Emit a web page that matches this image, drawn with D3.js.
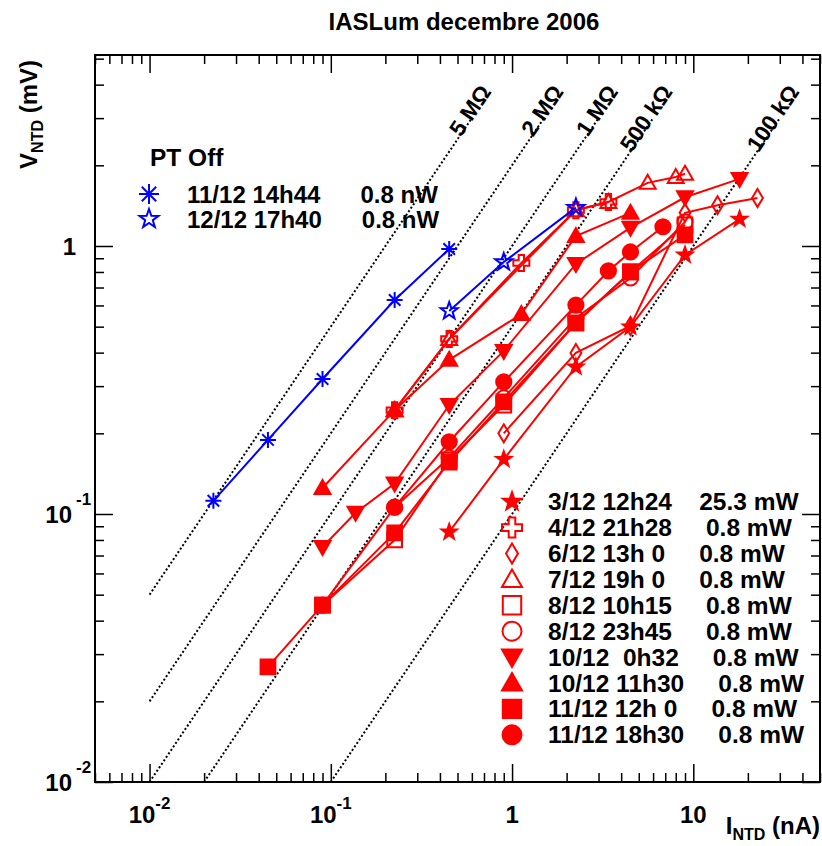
<!DOCTYPE html>
<html><head><meta charset="utf-8">
<script src="https://cdn.jsdelivr.net/npm/d3@7"></script>
<style>body{margin:0;background:#fff} text{font-family:"Liberation Sans",Arial,sans-serif;font-weight:bold;fill:#000}</style>
</head><body><svg id="c" width="822" height="846"></svg>
<script>
// ---------- data ----------
const title = "IASLum decembre 2006";
const xMajor = [0.01, 0.1, 1, 10];
const xMajorBase = ["10", "10", "1", "10"];
const xMajorExp = ["-2", "-1", "", ""];
const yMajor = [0.01, 0.1, 1];
const yMajorBase = ["10", "10", "1"];
const yMajorExp = ["-2", "-1", ""];

const resValues = [5, 2, 1, 0.5, 0.1];            // MOhm  (V[mV] = R * I[nA])
const resLabels = ["5 MΩ", "2 MΩ", "1 MΩ", "500 kΩ", "100 kΩ"];

// red series (PT on)
const s1X = [0.45, 0.9, 2.25, 4.5, 9, 18];            // 3/12 12h24 star
const s1Y = [0.0857, 0.160, 0.354, 0.499, 0.926, 1.26];
const s2X = [0.225, 0.45, 1.125, 2.25, 3.4];          // 4/12 21h28 open cross
const s2Y = [0.244, 0.450, 0.864, 1.36, 1.46];
const s3X = [0.9, 2.25, 4.5, 9, 13.6, 22.6];          // 6/12 13h 0 open diamond
const s3Y = [0.200, 0.399, 0.503, 1.33, 1.42, 1.51];
const s4X = [0.225, 0.45, 2.25, 3.4, 5.6, 8.0, 9.0];  // 7/12 19h 0 open triangle
const s4Y = [0.244, 0.450, 1.36, 1.46, 1.72, 1.81, 1.86];
const s5X = [0.09, 0.225, 0.45, 0.9, 2.25, 4.5, 9];   // 8/12 10h15 open square
const s5Y = [0.0457, 0.080, 0.159, 0.255, 0.516, 0.800, 1.20];
const s6X = [0.09, 0.225, 0.45, 0.9, 2.25, 4.5, 9];   // 8/12 23h45 open circle
const s6Y = [0.0457, 0.106, 0.162, 0.271, 0.539, 0.760, 1.23];
const s7X = [0.09, 0.137, 0.225, 0.45, 0.9, 2.25, 4.5, 9, 18]; // 10/12 0h32 down triangle
const s7Y = [0.0753, 0.101, 0.130, 0.255, 0.406, 0.857, 1.17, 1.52, 1.78];
const s8X = [0.09, 0.225, 0.45, 1.125, 2.25, 4.5];    // 10/12 11h30 up triangle
const s8Y = [0.125, 0.244, 0.376, 0.557, 1.09, 1.33];
const s9X = [0.045, 0.09, 0.225, 0.45, 0.9, 2.25, 4.5, 9]; // 11/12 12h 0 filled square
const s9Y = [0.0269, 0.0457, 0.085, 0.156, 0.262, 0.516, 0.800, 1.10];
const s10X = [0.225, 0.45, 0.9, 2.25, 3.4, 4.5, 6.8];  // 11/12 18h30 filled circle
const s10Y = [0.106, 0.186, 0.311, 0.602, 0.807, 0.950, 1.18];
// blue series (PT off)
const b1X = [0.0225, 0.045, 0.09, 0.225, 0.45];       // 11/12 14h44 asterisk
const b1Y = [0.112, 0.189, 0.319, 0.629, 0.975];
const b2X = [0.45, 0.9, 2.25];                        // 12/12 17h40 open star
const b2Y = [0.572, 0.871, 1.39];

const redLabels = [
  "3/12 12h24    25.3 mW",
  "4/12 21h28     0.8 mW",
  "6/12 13h 0     0.8 mW",
  "7/12 19h 0     0.8 mW",
  "8/12 10h15     0.8 mW",
  "8/12 23h45     0.8 mW",
  "10/12  0h32     0.8 mW",
  "10/12 11h30     0.8 mW",
  "11/12 12h 0     0.8 mW",
  "11/12 18h30     0.8 mW"];
const redMarkers = ["star","crossO","diamondO","triUpO","squareO","circleO","triDown","triUp","square","circle"];
const blueTitle = "PT Off";
const blueLabels = ["11/12 14h44      0.8 nW", "12/12 17h40      0.8 nW"];
const blueMarkers = ["asterisk", "starO"];

// ---------- chart ----------
const RED = "#ff0000", BLUE = "#0000ff";
const svg = d3.select("#c");
const L = 95, R = 820, T = 55, B = 782;
const x = d3.scaleLog().domain([0.005, 50]).range([L, R]);
const y = d3.scaleLog().domain([0.01, 5.16]).range([B, T]);

function minors(scale) {
  const [lo, hi] = scale.domain(); const t = [];
  for (let e = -4; e <= 3; e++) for (let k = 2; k <= 9; k++) {
    const v = k * Math.pow(10, e); if (v >= lo * 0.999 && v <= hi * 1.001) t.push(v);
  }
  return t;
}
function axisG(fn, scale, vals, size, tr) {
  const g = svg.append("g").attr("transform", tr)
    .call(fn(scale).tickValues(vals).tickSize(-size).tickFormat(""));
  g.select(".domain").remove();
  g.selectAll("line").attr("stroke", "#000").attr("stroke-width", 1.5);
}
axisG(d3.axisBottom, x, xMajor, 18, `translate(0,${B})`);
axisG(d3.axisBottom, x, minors(x), 9, `translate(0,${B})`);
axisG(d3.axisTop, x, xMajor, 18, `translate(0,${T})`);
axisG(d3.axisTop, x, minors(x), 9, `translate(0,${T})`);
axisG(d3.axisLeft, y, yMajor, 18, `translate(${L},0)`);
axisG(d3.axisLeft, y, minors(y), 9, `translate(${L},0)`);
axisG(d3.axisRight, y, yMajor, 18, `translate(${R},0)`);
axisG(d3.axisRight, y, minors(y), 9, `translate(${R},0)`);
svg.append("rect").attr("x", L).attr("y", T).attr("width", R - L).attr("height", B - T)
  .attr("fill", "none").attr("stroke", "#000").attr("stroke-width", 2);

// tick labels
xMajor.forEach((v, i) => {
  const t = svg.append("text").attr("x", x(v)).attr("y", 823).attr("text-anchor", "middle").attr("font-size", 24);
  t.append("tspan").text(xMajorBase[i]);
  if (xMajorExp[i]) t.append("tspan").attr("dy", -14).attr("font-size", 17).text(xMajorExp[i]);
});
yMajor.forEach((v, i) => {
  svg.append("text").attr("x", yMajorExp[i] ? 72 : 76).attr("y", y(v) + 9).attr("text-anchor", "end").attr("font-size", 24).text(yMajorBase[i]);
  if (yMajorExp[i]) svg.append("text").attr("x", 76).attr("y", y(v) - 9).attr("font-size", 17).text(yMajorExp[i]);
});

// axis titles
const xt = svg.append("text").attr("x", 820).attr("y", 834).attr("text-anchor", "end").attr("font-size", 24);
xt.append("tspan").text("I");
xt.append("tspan").attr("dy", 6).attr("font-size", 16).text("NTD");
xt.append("tspan").attr("dy", -6).text(" (nA)");
const yt = svg.append("text").attr("transform", "translate(37,60) rotate(-90)").attr("text-anchor", "end").attr("font-size", 24);
yt.append("tspan").text("V");
yt.append("tspan").attr("dy", 6).attr("font-size", 16).text("NTD");
yt.append("tspan").attr("dy", -6).text(" (mV)");

svg.append("text").attr("x", 464).attr("y", 30).attr("text-anchor", "middle").attr("font-size", 24).text(title);

// resistance lines
resValues.forEach((Rm, i) => {
  const i0 = Math.max(0.01, 0.01 / Rm);
  const vEnd = 3.0, vLab = 3.8;
  const p0 = [x(i0), y(i0 * Rm)], p1 = [x(vEnd / Rm), y(vEnd)];
  svg.append("line").attr("x1", p0[0]).attr("y1", p0[1]).attr("x2", p1[0]).attr("y2", p1[1])
    .attr("stroke", "#000").attr("stroke-width", 2).attr("stroke-dasharray", "2,2.2");
  const pl = [x(vLab / Rm), y(vLab)];
  const ang = Math.atan2(p1[1] - p0[1], p1[0] - p0[0]) * 180 / Math.PI;
  svg.append("text").attr("transform", `translate(${pl[0]},${pl[1]}) rotate(${ang})`)
    .attr("text-anchor", "end").attr("dy", 2).attr("font-size", 22.5).text(resLabels[i]);
});

// markers
function starPath(Ro, Ri) {
  let p = "";
  for (let k = 0; k < 10; k++) {
    const a = -Math.PI / 2 + k * Math.PI / 5, rr = k % 2 ? Ri : Ro;
    p += (k ? "L" : "M") + (rr * Math.cos(a)).toFixed(2) + "," + (rr * Math.sin(a)).toFixed(2);
  }
  return p + "Z";
}
function marker(g, type, cx, cy, r, color) {
  let d, filled = true, sw = 2;
  switch (type) {
    case "circle": case "circleO": d = d3.path(); d.arc(0, 0, r * 0.95, 0, 2 * Math.PI); d = d.toString(); break;
    case "square": case "squareO": { const h = r * 0.92; d = `M${-h},${-h}H${h}V${h}H${-h}Z`; break; }
    case "triUp": case "triUpO": d = `M0,${-r}L${r},${r * 0.75}L${-r},${r * 0.75}Z`; break;
    case "triDown": d = `M0,${r}L${r},${-r * 0.75}L${-r},${-r * 0.75}Z`; break;
    case "diamondO": d = `M0,${-r}L${r * 0.6},0L0,${r}L${-r * 0.6},0Z`; break;
    case "crossO": { const w = r * 0.33; d = `M${-w},${-r}H${w}V${-w}H${r}V${w}H${w}V${r}H${-w}V${w}H${-r}V${-w}H${-w}Z`; break; }
    case "star": case "starO": d = starPath(r, r * 0.4); break;
    case "asterisk": { const q = r * 0.72; d = `M${-r},0H${r}M0,${-r}V${r}M${-q},${-q}L${q},${q}M${q},${-q}L${-q},${q}`; filled = false; break; }
  }
  if (type.endsWith("O")) filled = false;
  g.append("path").attr("d", d).attr("transform", `translate(${cx},${cy})`)
    .attr("fill", filled ? color : "none").attr("stroke", color).attr("stroke-width", sw);
}

const series = [
  [s1X, s1Y, "star", RED], [s2X, s2Y, "crossO", RED], [s3X, s3Y, "diamondO", RED],
  [s4X, s4Y, "triUpO", RED], [s5X, s5Y, "squareO", RED], [s6X, s6Y, "circleO", RED],
  [s7X, s7Y, "triDown", RED], [s8X, s8Y, "triUp", RED], [s9X, s9Y, "square", RED],
  [s10X, s10Y, "circle", RED], [b1X, b1Y, "asterisk", BLUE], [b2X, b2Y, "starO", BLUE]];
const line = d3.line().x(d => x(d[0])).y(d => y(d[1]));
const gData = svg.append("g");
series.forEach(([xs, ys, m, col]) => {
  const pts = xs.map((v, i) => [v, ys[i]]);
  const g = gData.append("g");
  g.append("path").attr("d", line(pts)).attr("fill", "none").attr("stroke", col).attr("stroke-width", 2);
  const rr = {star: 8, starO: 9, asterisk: 8, diamondO: 9, crossO: 8}[m] || 8;
  pts.forEach(p => marker(g, m, x(p[0]), y(p[1]), rr, col));
});

// legends
svg.append("text").attr("x", 150).attr("y", 166).attr("font-size", 24.5).text(blueTitle);
blueLabels.forEach((s, i) => {
  const cy = 194 + 25 * i;
  marker(svg, blueMarkers[i], 149, cy, 10, BLUE);
  svg.append("text").attr("x", 187).attr("y", cy + 8.5).attr("font-size", 24)
    .style("white-space", "pre").attr("xml:space", "preserve").text(s);
});
redLabels.forEach((s, i) => {
  const cy = 501.7 + 25.9 * i;
  marker(svg, redMarkers[i], 512, cy, redMarkers[i] === "star" ? 9.5 : 10, RED);
  svg.append("text").attr("x", 548).attr("y", cy + 8.5).attr("font-size", 24.5)
    .style("white-space", "pre").attr("xml:space", "preserve").text(s);
});
</script></body></html>
